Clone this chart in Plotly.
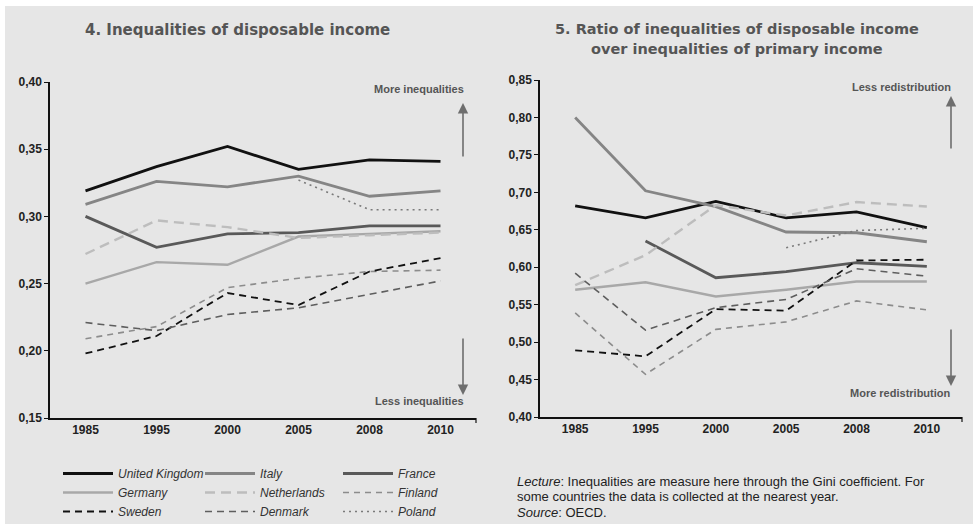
import plotly.graph_objects as go

W, H = 973, 527

years = ["1985", "1995", "2000", "2005", "2008", "2010"]
countries = ["United Kingdom", "Italy", "France", "Germany", "Netherlands",
             "Finland", "Sweden", "Denmark", "Poland"]

# Panel 4: Gini of disposable income
gini_uk = [0.319, 0.337, 0.352, 0.335, 0.342, 0.341]
gini_it = [0.309, 0.326, 0.322, 0.330, 0.315, 0.319]
gini_fr = [0.300, 0.277, 0.287, 0.288, 0.293, 0.293]
gini_de = [0.250, 0.266, 0.264, 0.285, 0.287, 0.289]
gini_nl = [0.272, 0.297, 0.292, 0.284, 0.286, 0.288]
gini_fi = [0.209, 0.218, 0.247, 0.254, 0.259, 0.260]
gini_se = [0.198, 0.211, 0.243, 0.234, 0.259, 0.269]
gini_dk = [0.221, 0.215, 0.227, 0.232, 0.242, 0.252]
gini_pl = [None, None, None, 0.327, 0.305, 0.305]

# Panel 5: ratio disposable / primary income inequalities
ratio_uk = [0.682, 0.666, 0.688, 0.666, 0.674, 0.653]
ratio_it = [0.800, 0.702, 0.681, 0.647, 0.646, 0.634]
ratio_fr = [None, 0.635, 0.586, 0.594, 0.606, 0.601]
ratio_de = [0.570, 0.580, 0.561, 0.570, 0.581, 0.581]
ratio_nl = [0.576, 0.616, 0.683, 0.669, 0.687, 0.681]
ratio_fi = [0.539, 0.457, 0.517, 0.527, 0.555, 0.543]
ratio_se = [0.489, 0.481, 0.544, 0.542, 0.609, 0.610]
ratio_dk = [0.592, 0.516, 0.546, 0.557, 0.598, 0.588]
ratio_pl = [None, None, None, 0.626, 0.649, 0.652]

left_ticks = [0.15, 0.20, 0.25, 0.30, 0.35, 0.40]
right_ticks = [0.40, 0.45, 0.50, 0.55, 0.60, 0.65, 0.70, 0.75, 0.80, 0.85]

gini = [gini_uk, gini_it, gini_fr, gini_de, gini_nl, gini_fi, gini_se, gini_dk, gini_pl]
ratio = [ratio_uk, ratio_it, ratio_fr, ratio_de, ratio_nl, ratio_fi, ratio_se, ratio_dk, ratio_pl]

styles = [
    dict(color="#111111", width=2.8, dash="solid"),
    dict(color="#858585", width=2.8, dash="solid"),
    dict(color="#595959", width=2.8, dash="solid"),
    dict(color="#a8a8a8", width=2.4, dash="solid"),
    dict(color="#bdbdbd", width=2.4, dash="10px,6px"),
    dict(color="#8c8c8c", width=1.6, dash="6px,5px"),
    dict(color="#111111", width=1.8, dash="7px,5px"),
    dict(color="#5e5e5e", width=1.6, dash="7px,5px"),
    dict(color="#7a7a7a", width=1.6, dash="2px,4px"),
]
# legend column of each country (3 columns, filled row-wise)
legend_ids = ["legend", "legend2", "legend3"] * 3

fig = go.Figure()
for name, vals, st, lg in zip(countries, gini, styles, legend_ids):
    fig.add_trace(go.Scatter(x=years, y=vals, mode="lines", name=name, line=st,
                             xaxis="x", yaxis="y", showlegend=True, legend=lg))
for name, vals, st in zip(countries, ratio, styles):
    fig.add_trace(go.Scatter(x=years, y=vals, mode="lines", name=name, line=st,
                             xaxis="x2", yaxis="y2", showlegend=False))


def px(x):
    return x / W


def py(y):
    return 1 - y / H


tickfont = dict(family="Liberation Sans", size=12, color="#222222")
common_x = dict(type="category", range=[-0.5, 5.5], showgrid=False, zeroline=False,
                showline=True, linecolor="#111111", linewidth=1.5, ticks="",
                tickfont=tickfont, fixedrange=True)
common_y = dict(showgrid=False, zeroline=False, showline=True, linecolor="#111111",
                linewidth=1.5, ticks="outside", ticklen=4, tickwidth=1.2,
                tickcolor="#111111", tickfont=tickfont, fixedrange=True)

legend_font = dict(family="Liberation Sans", size=12, color="#333333", style="italic")


def legend_at(xpix):
    return dict(orientation="v", x=px(xpix), y=py(459), xanchor="left", yanchor="top",
                itemwidth=50, bgcolor="rgba(0,0,0,0)", font=legend_font,
                traceorder="normal", tracegroupgap=0, borderwidth=0)


fig.update_layout(
    width=W, height=H,
    margin=dict(l=0, r=0, t=0, b=0, autoexpand=False),
    paper_bgcolor="white",
    plot_bgcolor="rgba(0,0,0,0)",
    xaxis=dict(common_x, domain=[px(50), px(476)], anchor="y",
               tickvals=years, ticktext=["<b>%s</b>" % y for y in years]),
    yaxis=dict(common_y, domain=[py(418), py(82)], range=[0.15, 0.40], anchor="x",
               tickvals=left_ticks,
               ticktext=["<b>%s</b>" % ("%.2f" % v).replace(".", ",") for v in left_ticks]),
    xaxis2=dict(common_x, domain=[px(540), px(962)], anchor="y2",
                tickvals=years, ticktext=["<b>%s</b>" % y for y in years]),
    yaxis2=dict(common_y, domain=[py(417), py(80)], range=[0.40, 0.85], anchor="x2",
                tickvals=right_ticks,
                ticktext=["<b>%s</b>" % ("%.2f" % v).replace(".", ",") for v in right_ticks]),
    legend=legend_at(58),
    legend2=legend_at(200),
    legend3=legend_at(338),
    showlegend=True,
)

shapes = [
    dict(type="rect", xref="paper", yref="paper", x0=px(5), x1=1, y0=py(524), y1=py(6),
         fillcolor="#e6e6e6", line=dict(width=0), layer="below"),
    dict(type="line", xref="paper", yref="paper", x0=px(476), x1=px(476), y0=py(418), y1=py(423),
         line=dict(color="#111111", width=1.2)),
    dict(type="line", xref="paper", yref="paper", x0=px(962), x1=px(962), y0=py(417), y1=py(422),
         line=dict(color="#111111", width=1.2)),
]
fig.update_layout(shapes=shapes)

title_font = dict(family="DejaVu Sans", size=15, color="#555555")
title_font2 = dict(family="DejaVu Sans", size=14.5, color="#555555")
note_font = dict(family="Liberation Sans", size=13, color="#222222")
arrow_text_font = dict(family="Liberation Sans", size=11, color="#555555")

ann = [
    dict(text="<b>4. Inequalities of disposable income</b>", x=px(237), y=py(30),
         xanchor="center", yanchor="middle", font=title_font),
    dict(text="<b>5. Ratio of inequalities of disposable income</b>",
         x=px(737), y=py(29), xanchor="center", yanchor="middle", font=title_font2),
    dict(text="<b>over inequalities of primary income</b>",
         x=px(737), y=py(49), xanchor="center", yanchor="middle", font=title_font2),
    dict(text="<b>More inequalities</b>", x=px(466), y=py(89), xanchor="right", yanchor="middle",
         font=arrow_text_font),
    dict(text="<b>Less inequalities</b>", x=px(466), y=py(401), xanchor="right", yanchor="middle",
         font=arrow_text_font),
    dict(text="<b>Less redistribution</b>", x=px(953), y=py(87), xanchor="right", yanchor="middle",
         font=arrow_text_font),
    dict(text="<b>More redistribution</b>", x=px(953), y=py(393), xanchor="right", yanchor="middle",
         font=arrow_text_font),
    dict(text="<i>Lecture</i>: Inequalities are measure here through the Gini coefficient. For",
         x=px(515), y=py(482), xanchor="left", yanchor="middle", align="left", font=note_font),
    dict(text="some countries the data is collected at the nearest year.",
         x=px(515), y=py(496), xanchor="left", yanchor="middle", align="left", font=note_font),
    dict(text="<i>Source</i>: OECD.", x=px(515), y=py(512), xanchor="left", yanchor="middle",
         align="left", font=note_font),
]
arrows = [
    (463, 103, 55),
    (463, 395, -58),
    (951, 96, 54),
    (951, 386, -58),
]
for (x, y, ay) in arrows:
    ann.append(dict(text="", x=px(x), y=py(y), xref="paper", yref="paper", showarrow=True,
                    ax=0, ay=ay, axref="pixel", ayref="pixel", arrowhead=2, arrowsize=1.3,
                    arrowwidth=1.6, arrowcolor="#6e6e6e"))
for a in ann:
    a.setdefault("xref", "paper")
    a.setdefault("yref", "paper")
    a.setdefault("showarrow", False)
fig.update_layout(annotations=ann)

fig.write_html("out.html", config={"displayModeBar": False},
               post_script="document.body.style.margin='0';document.body.style.overflow='hidden';")
